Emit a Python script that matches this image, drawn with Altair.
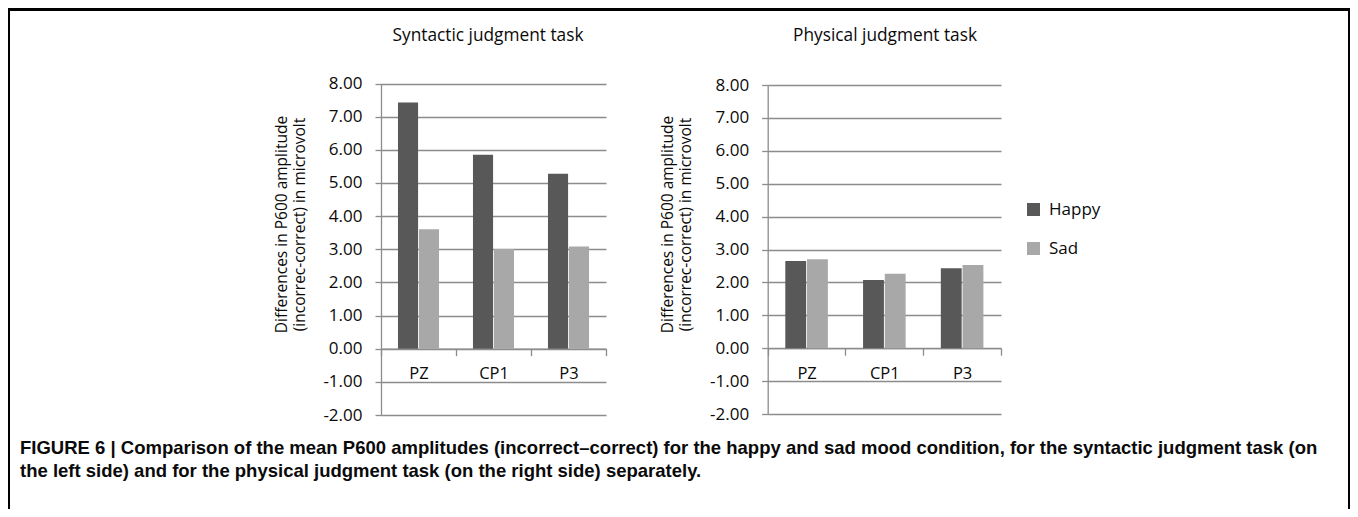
import altair as alt
import pandas as pd

# ---- data ----
electrodes = ["PZ", "CP1", "P3"]
moods = ["Happy", "Sad"]
syntactic_happy = [7.43, 5.85, 5.28]
syntactic_sad = [3.60, 3.01, 3.08]
physical_happy = [2.65, 2.07, 2.43]
physical_sad = [2.70, 2.26, 2.53]
y_ticks = [-2, -1, 0, 1, 2, 3, 4, 5, 6, 7, 8]
panel_titles = ["Syntactic judgment task", "Physical judgment task"]
y_title = ["Differences in P600 amplitude", "(incorrec-correct) in microvolt"]
caption_lines = [
    "FIGURE 6 | Comparison of the mean P600 amplitudes (incorrect\u2013correct) for the happy and sad mood condition, for the syntactic judgment task (on",
    "the left side) and for the physical judgment task (on the right side) separately.",
]
mood_colors = ["#585858", "#a8a8a8"]

# ---- styling ----
W, H = 1342, 501
FONT = "Open Sans"
CAP_FONT = "Liberation Sans"
GRID = "#8c8c8c"
TXT = "#0a0a0a"


def panel(happy, sad, xr, yr, legend):
    df = pd.DataFrame({
        "electrode": electrodes * 2,
        "mood": [moods[0]] * len(electrodes) + [moods[1]] * len(electrodes),
        "value": happy + sad,
    })
    y0 = yr[0] + (yr[1] - yr[0]) * 2 / 10.0  # pixel of value 0
    return alt.Chart(df).mark_bar().encode(
        x=alt.X(
            "electrode:N", sort=electrodes,
            scale=alt.Scale(range=xr, paddingInner=0, paddingOuter=0),
            axis=alt.Axis(
                orient="bottom", offset=y0 - H, title=None, labelAngle=0,
                tickBand="extent", grid=False, domainColor=GRID, tickColor=GRID,
                domainWidth=1.3, tickWidth=1.3, tickSize=7, labelPadding=18,
                labelBaseline="middle", labelFont=FONT, labelFontSize=16.5,
                labelColor=TXT,
            ),
        ),
        xOffset=alt.XOffset(
            "mood:N", sort=moods,
            scale=alt.Scale(paddingOuter=0.81, paddingInner=0.04),
        ),
        y=alt.Y(
            "value:Q", stack=None,
            scale=alt.Scale(domain=[-2, 8], range=yr, nice=False),
            axis=alt.Axis(
                orient="left", offset=-xr[0], values=y_ticks,
                labelExpr="replace(format(datum.value, '.2f'), '\u2212', '-')",
                grid=True, gridColor=GRID, gridWidth=1.3,
                domainColor=GRID, domainWidth=1.3, tickColor=GRID, tickWidth=1.3,
                tickSize=6, labelPadding=13, labelFont=FONT, labelFontSize=17,
                labelColor=TXT, title=y_title, titleX=-100, titleY=216,
                titleAngle=-90, titleBaseline="middle", titleAlign="center",
                titleFont=FONT, titleFontSize=15.5, titleFontWeight="normal",
                titleColor=TXT, titleLineHeight=18,
            ),
        ),
        color=alt.Color(
            "mood:N",
            scale=alt.Scale(domain=moods, range=mood_colors),
            legend=alt.Legend(
                orient="none", legendX=1017, legendY=193, title=None,
                symbolType="square", symbolSize=169, symbolStrokeWidth=0,
                labelFont=FONT, labelFontSize=17, labelColor=TXT,
                labelOffset=7, rowPadding=21, padding=0,
            ) if legend else None,
        ),
    )


left = panel(syntactic_happy, syntactic_sad, [373, 598], [407, 75.5], False)
right = panel(physical_happy, physical_sad, [759.7, 993], [406, 77], True)

dummy = pd.DataFrame({"k": [0]})


def text_layer(txt, x, y, size, font, weight="normal", align="center"):
    return alt.Chart(pd.DataFrame({"t": [txt]})).mark_text(
        font=font, fontSize=size, fontWeight=weight, align=align,
        baseline="middle", color=TXT,
    ).encode(text="t:N", x=alt.value(x), y=alt.value(y))


titles = [
    text_layer(panel_titles[0], 480, 27.5, 17.3, FONT),
    text_layer(panel_titles[1], 877, 27.5, 17.3, FONT),
]
captions = [
    text_layer(caption_lines[0], 12, 440, 18.5, CAP_FONT, "bold", "left"),
    text_layer(caption_lines[1], 12, 463, 18.5, CAP_FONT, "bold", "left"),
]

frame_top = alt.Chart(dummy).mark_rule(color="black", strokeWidth=3).encode(
    x=alt.value(0), x2=alt.value(W), y=alt.value(1.5))
frame_left = alt.Chart(dummy).mark_rule(color="black", strokeWidth=2).encode(
    x=alt.value(1), y=alt.value(0), y2=alt.value(H))
frame_right = alt.Chart(dummy).mark_rule(color="black", strokeWidth=2).encode(
    x=alt.value(W - 1), y=alt.value(0), y2=alt.value(H))

chart = alt.layer(
    left, right, *titles, *captions, frame_top, frame_left, frame_right
).resolve_scale(
    x="independent", y="independent", color="independent", xOffset="independent"
).resolve_axis(
    x="independent", y="independent"
).properties(
    width=W, height=H, padding=0, autosize=alt.AutoSizeParams(type="none"),
    background="white",
).configure_view(stroke=None)

chart.save("out.html", embed_options={"renderer": "svg", "actions": False})
